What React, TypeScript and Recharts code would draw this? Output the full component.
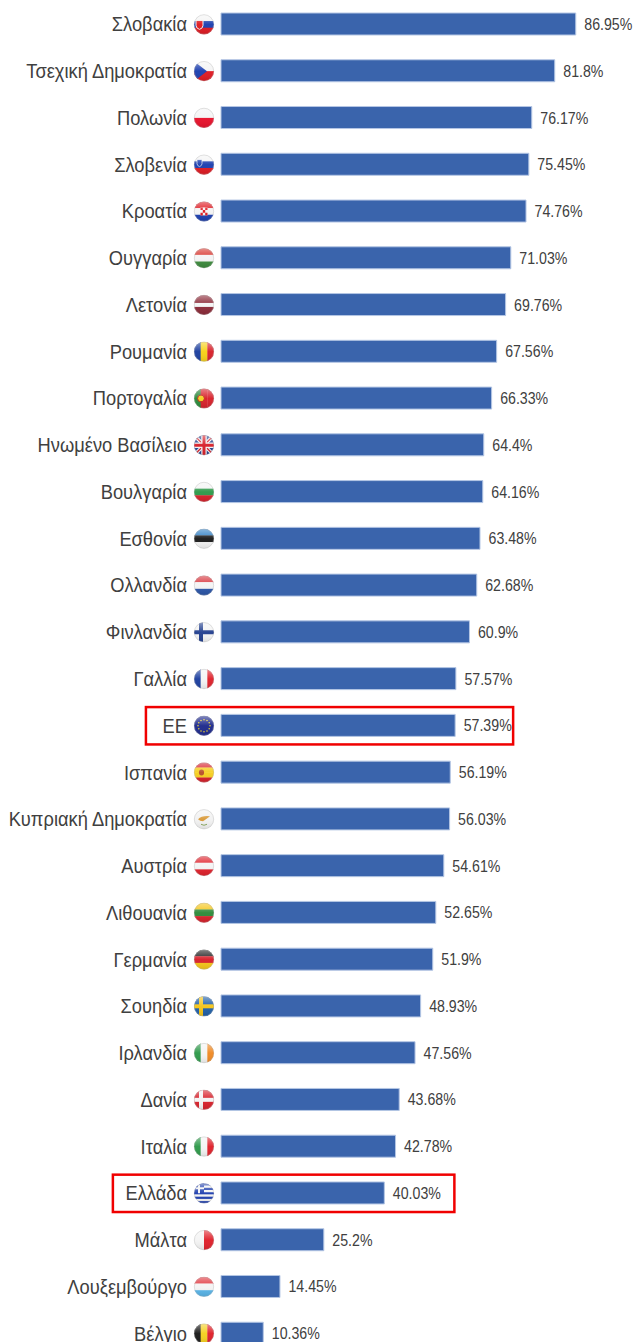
import React from "react";
import { Bar, BarChart, LabelList, ReferenceArea, XAxis, YAxis } from "recharts";

const countries = [
  "Σλοβακία", "Τσεχική Δημοκρατία", "Πολωνία", "Σλοβενία", "Κροατία", "Ουγγαρία", "Λετονία", "Ρουμανία",
  "Πορτογαλία", "Ηνωμένο Βασίλειο", "Βουλγαρία", "Εσθονία", "Ολλανδία", "Φινλανδία", "Γαλλία", "ΕΕ",
  "Ισπανία", "Κυπριακή Δημοκρατία", "Αυστρία", "Λιθουανία", "Γερμανία", "Σουηδία", "Ιρλανδία", "Δανία",
  "Ιταλία", "Ελλάδα", "Μάλτα", "Λουξεμβούργο", "Βέλγιο",
];

const shares = [
  86.95, 81.8, 76.17, 75.45, 74.76, 71.03, 69.76, 67.56, 66.33, 64.4, 64.16, 63.48, 62.68, 60.9, 57.57, 57.39,
  56.19, 56.03, 54.61, 52.65, 51.9, 48.93, 47.56, 43.68, 42.78, 40.03, 25.2, 14.45, 10.36,
];

const highlighted = ["ΕΕ", "Ελλάδα"];

const data = countries.map((name, i) => ({ name, value: shares[i] }));

// Row stripes of each flag; v = vertical bands. Anything extra is drawn in FlagExtras
const flagBands: Record<string, { v?: boolean; colors: string[] }> = {
  "Σλοβακία": { colors: ["#f4f4f4", "#1c3fb0", "#e01a22"] },
  "Τσεχική Δημοκρατία": { colors: ["#f4f4f4", "#e01a22"] },
  "Πολωνία": { colors: ["#f4f4f4", "#e8102a"] },
  "Σλοβενία": { colors: ["#f4f4f4", "#1c3fb0", "#e01a22"] },
  "Κροατία": { colors: ["#e01a22", "#f4f4f4", "#1c3fb0"] },
  "Ουγγαρία": { colors: ["#d8342c", "#f4f4f4", "#3c8a3c"] },
  "Λετονία": { colors: ["#8c2a38", "#8c2a38", "#f4f4f4", "#8c2a38", "#8c2a38"] },
  "Ρουμανία": { v: true, colors: ["#1c3fa0", "#f7d117", "#d8202a"] },
  "Πορτογαλία": { v: true, colors: ["#2a8a3a", "#d8202a", "#d8202a"] },
  "Ηνωμένο Βασίλειο": { colors: ["#23408f"] },
  "Βουλγαρία": { colors: ["#f4f4f4", "#2e9a4a", "#d8202a"] },
  "Εσθονία": { colors: ["#2f7fc4", "#1a1a1a", "#f4f4f4"] },
  "Ολλανδία": { colors: ["#d8343c", "#f4f4f4", "#2a55a8"] },
  "Φινλανδία": { colors: ["#f4f4f4"] },
  "Γαλλία": { v: true, colors: ["#1c3fa0", "#f4f4f4", "#e0202a"] },
  "ΕΕ": { colors: ["#1e2a8c"] },
  "Ισπανία": { colors: ["#d8202a", "#f7cf1f", "#f7cf1f", "#d8202a"] },
  "Κυπριακή Δημοκρατία": { colors: ["#f2f2f2"] },
  "Αυστρία": { colors: ["#e0202a", "#f4f4f4", "#e0202a"] },
  "Λιθουανία": { colors: ["#f5c518", "#2e8a3a", "#d8202a"] },
  "Γερμανία": { colors: ["#222222", "#d8202a", "#f5c518"] },
  "Σουηδία": { colors: ["#1f5fa8"] },
  "Ιρλανδία": { v: true, colors: ["#2e9a4a", "#f4f4f4", "#f08a24"] },
  "Δανία": { colors: ["#d8202a"] },
  "Ιταλία": { v: true, colors: ["#2e9a4a", "#f4f4f4", "#e0202a"] },
  "Ελλάδα": { colors: ["#1f3fb0", "#f4f4f4", "#1f3fb0", "#f4f4f4", "#1f3fb0", "#f4f4f4", "#1f3fb0", "#f4f4f4", "#1f3fb0"] },
  "Μάλτα": { v: true, colors: ["#f4f4f4", "#e0202a"] },
  "Λουξεμβούργο": { colors: ["#e0343c", "#f4f4f4", "#58b4e8"] },
  "Βέλγιο": { v: true, colors: ["#1a1a1a", "#f5d01f", "#e0202a"] },
};

const R = 10;

const FlagExtras = ({ name }: { name: string }) => {
  const cross = (color: string, cx = -3) => (
    <>
      <rect x={cx - 2} y={-R} width={4} height={R * 2} fill={color} />
      <rect x={-R} y={-2} width={R * 2} height={4} fill={color} />
    </>
  );
  switch (name) {
    case "Σλοβακία":
      return <path d="M-8 -4 h7 v5 q0 3 -3.5 4 q-3.5 -1 -3.5 -4 z" fill="#e01a22" stroke="#f4f4f4" />;
    case "Τσεχική Δημοκρατία":
      return <path d="M-10 -10 L3 0 L-10 10 z" fill="#1c3fb0" />;
    case "Σλοβενία":
      return <path d="M-7 -5 h5 v4 q0 2 -2.5 3 q-2.5 -1 -2.5 -3 z" fill="#1c3fb0" stroke="#f4f4f4" strokeWidth={0.7} />;
    case "Κροατία":
      return (
        <>
          <rect x={-3.5} y={-4} width={7} height={8} fill="#f4f4f4" />
          <path d="M-3.5 -4 h2.3 v2.6 h-2.3 z M1.2 -4 h2.3 v2.6 h-2.3 z M-1.2 -1.4 h2.4 v2.7 h-2.4 z M-3.5 1.3 h2.3 v2.7 h-2.3 z M1.2 1.3 h2.3 v2.7 h-2.3 z" fill="#e01a22" />
        </>
      );
    case "Πορτογαλία":
      return <circle cx={-3} cy={0} r={3.4} fill="#f5d01f" stroke="#c02020" strokeWidth={1} />;
    case "Ηνωμένο Βασίλειο":
      return (
        <>
          <path d="M-10 -10 L10 10 M10 -10 L-10 10" stroke="#f4f4f4" strokeWidth={3.5} />
          <path d="M-10 -10 L10 10 M10 -10 L-10 10" stroke="#d8202a" strokeWidth={1.2} />
          <path d="M0 -10 V10 M-10 0 H10" stroke="#f4f4f4" strokeWidth={5.5} />
          <path d="M0 -10 V10 M-10 0 H10" stroke="#d8202a" strokeWidth={3} />
        </>
      );
    case "Φινλανδία":
      return cross("#23408f");
    case "Σουηδία":
      return cross("#f5c518");
    case "Δανία":
      return cross("#f4f4f4");
    case "ΕΕ":
      return (
        <g fill="#e8d030">
          {Array.from({ length: 12 }, (_, i) => (
            <circle key={i} cx={6 * Math.cos((i * Math.PI) / 6)} cy={6 * Math.sin((i * Math.PI) / 6)} r={0.8} />
          ))}
        </g>
      );
    case "Ισπανία":
      return <ellipse cx={-2.5} cy={0} rx={2.6} ry={3} fill="#b8502a" />;
    case "Κυπριακή Δημοκρατία":
      return (
        <>
          <path d="M-6 0 Q-2 -4 6 -3 Q2 0 -1 2 Q-4 2 -6 0 z" fill="#d99a3a" />
          <path d="M-3 5 Q0 7 3 5" stroke="#8aa860" strokeWidth={1} fill="none" />
        </>
      );
    case "Ελλάδα":
      return (
        <>
          <rect x={-10} y={-10} width={10} height={10} fill="#1f3fb0" />
          <path d="M-5 -10 V0 M-10 -5 H0" stroke="#f4f4f4" strokeWidth={2} />
        </>
      );
    default:
      return null;
  }
};

const Flag = ({ name, x, y }: { name: string; x: number; y: number }) => {
  const { v, colors } = flagBands[name];
  const step = (R * 2) / colors.length;
  const id = `clip-${countries.indexOf(name)}`;
  return (
    <g transform={`translate(${x},${y})`}>
      <clipPath id={id}>
        <circle r={R} />
      </clipPath>
      <g clipPath={`url(#${id})`}>
        {colors.map((c, i) =>
          v ? (
            <rect key={i} x={-R + i * step} y={-R} width={step + 0.3} height={R * 2} fill={c} />
          ) : (
            <rect key={i} x={-R} y={-R + i * step} width={R * 2} height={step + 0.3} fill={c} />
          )
        )}
        <FlagExtras name={name} />
        <circle r={R} fill="url(#flagGloss)" />
      </g>
      <circle r={R - 0.3} fill="none" stroke="#b0b0b0" strokeOpacity={0.5} strokeWidth={0.7} />
    </g>
  );
};

const CountryTick = ({ x, y, payload }: any) => (
  <g>
    <text
      transform={`translate(${x - 34},${y + 7}) scale(0.915,1)`}
      textAnchor="end"
      fontFamily="Liberation Sans"
      fontSize={20}
      fill="#404040"
    >
      {payload.value}
    </text>
    <Flag name={payload.value} x={x - 17} y={y} />
  </g>
);

const ValueLabel = ({ x, y, width, height, value }: any) => (
  <text
    transform={`translate(${x + width + 8.5},${y + height / 2 + 6}) scale(0.86,1)`}
    fontFamily="Liberation Sans"
    fontSize={16.5}
    fill="#404040"
  >
    {value}%
  </text>
);

// red frame around a row, a bit shorter than the row band
const RowFrame = ({ x, y, width, height }: any) => (
  <rect x={x} y={y + 4.7} width={width} height={height - 9.4} fill="none" stroke="#f00000" strokeWidth={2.5} />
);

export default function App() {
  return (
    <div style={{ position: "absolute", left: 0, top: 0, width: 636, height: 1342, overflow: "hidden", background: "#fff" }}>
      <BarChart
        width={636}
        height={1357}
        data={data}
        layout="vertical"
        margin={{ top: 1, right: 7, bottom: 0, left: 0 }}
        barCategoryGap={0}
      >
        <defs>
          <linearGradient id="flagGloss" x1="0" y1="0" x2="0" y2="1">
            <stop offset="0" stopColor="#fff" stopOpacity={0.45} />
            <stop offset="0.5" stopColor="#fff" stopOpacity={0.03} />
            <stop offset="1" stopColor="#000" stopOpacity={0.1} />
          </linearGradient>
        </defs>
        <XAxis type="number" domain={[0, 100]} hide />
        <YAxis
          type="category"
          dataKey="name"
          width={221}
          interval={0}
          axisLine={false}
          tickLine={false}
          tickSize={0}
          tickMargin={0}
          tick={<CountryTick />}
        />
        <Bar dataKey="value" barSize={22} fill="#3a64ac" stroke="#b4c6e4" strokeWidth={1} isAnimationActive={false}>
          <LabelList dataKey="value" content={<ValueLabel />} />
        </Bar>
        <ReferenceArea y1={highlighted[0]} y2={highlighted[0]} x1={-18.4} x2={71.6} ifOverflow="visible" shape={<RowFrame />} />
        <ReferenceArea y1={highlighted[1]} y2={highlighted[1]} x1={-26.5} x2={57.2} ifOverflow="visible" shape={<RowFrame />} />
      </BarChart>
    </div>
  );
}
